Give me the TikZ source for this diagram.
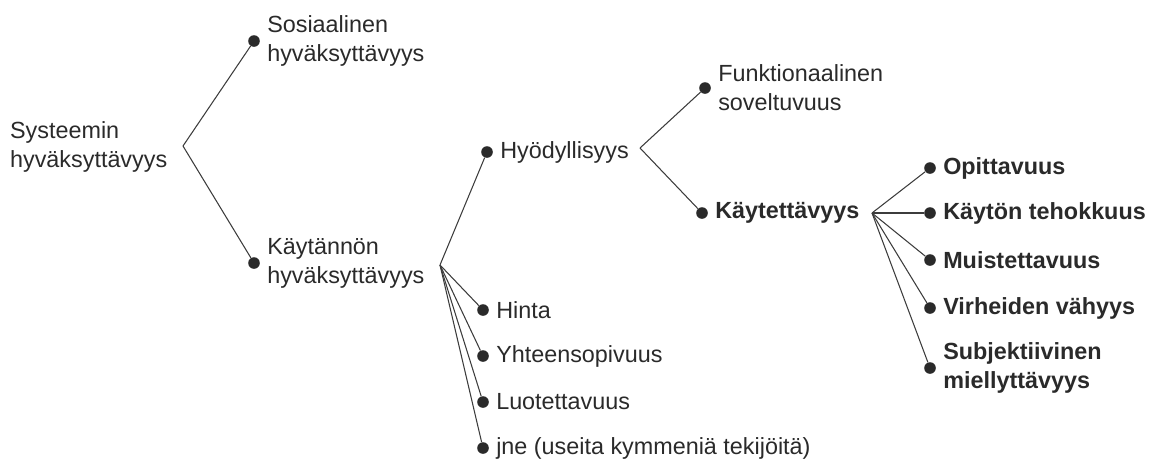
\documentclass[tikz,border=0pt]{standalone}
\usepackage{fontspec}
\setmainfont{Liberation Sans}
\usetikzlibrary{positioning}
\definecolor{HVInk}{HTML}{2A2A2A}
\definecolor{HVLine}{HTML}{3C3C3C}
\tikzset{
  hvdot/.style={
    circle,
    fill=HVInk,
    inner sep=0pt,
    minimum size=6.6pt
  },
  hvtext/.style={
    align=left,
    text=HVInk,
    inner sep=1pt,
    font=\fontsize{13.3}{16.5}\selectfont
  },
  hvbold/.style={
    hvtext,
    font=\fontsize{13.3}{16.5}\selectfont\bfseries
  },
  hvline/.style={
    line width=0.6pt,
    color=HVLine
  }
}

\begin{document}
\begin{tikzpicture}[x=0.02cm,y=-0.02cm,node distance=0.1cm]
  \useasboundingbox (0,0) rectangle (1153,461);

  % root
  \node[hvtext,anchor=west] (sys) at (8,147) {Systeemin\\hyväksyttävyys};
  \coordinate (sysfork) at (183,146);

  \node[hvdot] (sos) at (254,41) {};
  \node[hvtext,right=of sos] (sostxt) {Sosiaalinen\\hyväksyttävyys};
  \node[hvdot] (kay) at (254,263) {};
  \node[hvtext,right=of kay] (kaytxt) {Käytännön\\hyväksyttävyys};

  \draw[hvline] (sysfork) -- (sos);
  \draw[hvline] (sysfork) -- (kay);

  % practical acceptability
  \coordinate (kayfork) at (440,265);
  \node[hvdot] (hyo) at (487,152) {};
  \node[hvtext,right=of hyo] (hyotxt) {Hyödyllisyys};
  \node[hvdot] (hinta) at (483,310) {};
  \node[hvtext,right=of hinta] (hintatxt) {Hinta};
  \node[hvdot] (yht) at (483,356) {};
  \node[hvtext,right=of yht] (yhttxt) {Yhteensopivuus};
  \node[hvdot] (luo) at (483,402) {};
  \node[hvtext,right=of luo] (luotxt) {Luotettavuus};
  \node[hvdot] (jne) at (483,448) {};
  \node[hvtext,right=of jne] (jnetxt) {jne (useita kymmeniä tekijöitä)};

  \draw[hvline] (kayfork) -- (hyo);
  \draw[hvline] (kayfork) -- (hinta);
  \draw[hvline] (kayfork) -- (yht);
  \draw[hvline] (kayfork) -- (luo);
  \draw[hvline] (kayfork) -- (jne);

  % usefulness
  \coordinate (hyofork) at (640,148);
  \node[hvdot] (fun) at (705,88) {};
  \node[hvtext,right=of fun] (funtxt) {Funktionaalinen\\soveltuvuus};
  \node[hvdot] (kaet) at (702,213) {};
  \node[hvbold,right=of kaet] (kaettxt) {Käytettävyys};

  \draw[hvline] (hyofork) -- (fun);
  \draw[hvline] (hyofork) -- (kaet);

  % usability
  \coordinate (kaetfork) at (872,213);
  \node[hvdot] (opi) at (930,168) {};
  \node[hvbold,right=of opi] (opitxt) {Opittavuus};
  \node[hvdot] (teh) at (930,213) {};
  \node[hvbold,right=of teh] (tehtxt) {Käytön tehokkuus};
  \node[hvdot] (mui) at (930,260) {};
  \node[hvbold,right=of mui] (muitxt) {Muistettavuus};
  \node[hvdot] (vir) at (930,308) {};
  \node[hvbold,right=of vir] (virtxt) {Virheiden vähyys};
  \node[hvdot] (sub) at (930,368) {};
  \node[hvbold,right=of sub] (subtxt) {Subjektiivinen\\miellyttävyys};

  \draw[hvline] (kaetfork) -- (opi);
  \draw[hvline] (kaetfork) -- (teh);
  \draw[hvline] (kaetfork) -- (mui);
  \draw[hvline] (kaetfork) -- (vir);
  \draw[hvline] (kaetfork) -- (sub);
\end{tikzpicture}
\end{document}
